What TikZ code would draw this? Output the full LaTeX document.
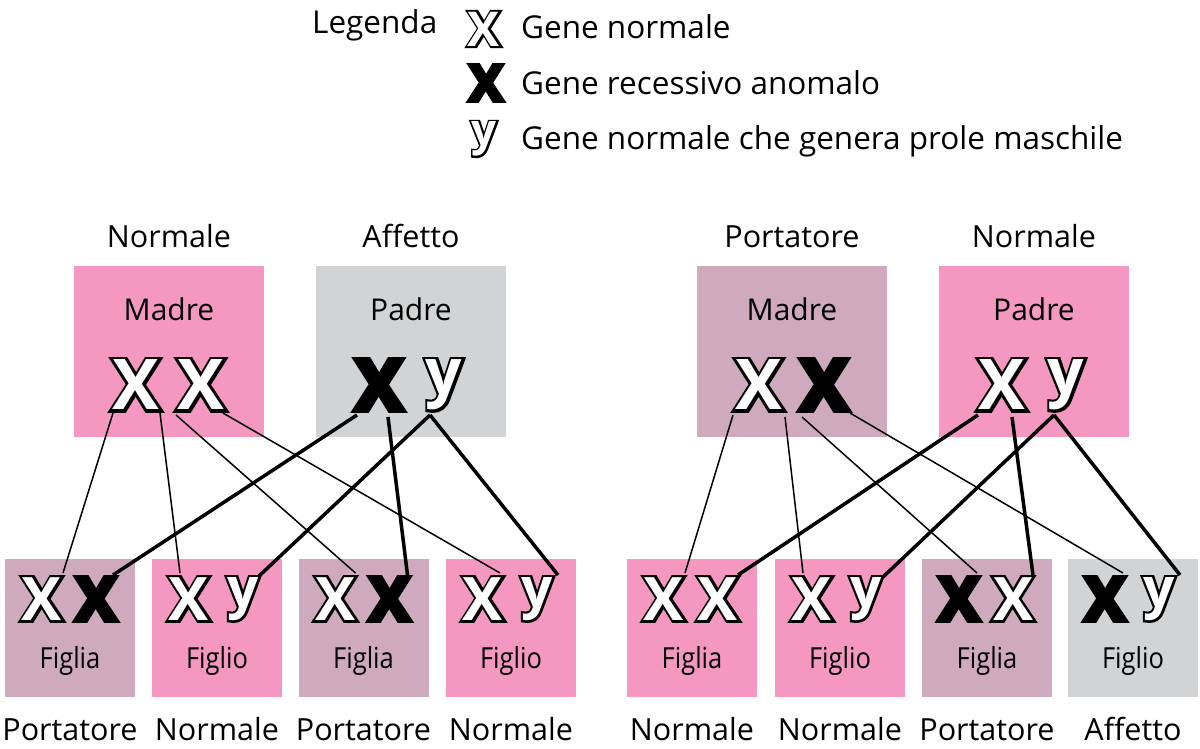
\documentclass[tikz,border=0pt]{standalone}
\usepackage{fontspec}
\setmainfont{Open Sans}
\newfontfamily\condfont[FakeStretch=0.88]{Open Sans}
\newfontfamily\gfill{Open Sans Bold}
\newfontfamily\gstroke[FakeBold=8.5]{Open Sans Bold}
\usetikzlibrary{calc}
\definecolor{rosa}{RGB}{244,152,193}
\definecolor{malva}{RGB}{207,170,190}
\definecolor{grigio}{RGB}{209,211,212}
\pgfdeclarelayer{bg}\pgfdeclarelayer{ln}\pgfsetlayers{bg,ln,main}
\newcommand\gw[1]{\rlap{\color{black}\gstroke #1}{\color{white}\gfill #1}}
\newcommand\gk[1]{{\color{black}\gstroke #1}}
\tikzset{
  pbox/.style={inner sep=0, minimum width=190pt, minimum height=171pt},
  cbox/.style={inner sep=0, minimum width=130pt, minimum height=138pt},
  lab/.style={anchor=base, inner sep=0, font=\fontsize{30.5pt}{30.5pt}\selectfont},
  ptxt/.style={anchor=base, inner sep=0, font=\fontsize{30pt}{30pt}\selectfont},
  ctxt/.style={anchor=base, inner sep=0, font=\condfont\fontsize{29pt}{29pt}\selectfont},
  ltxt/.style={anchor=base west, inner sep=0, font=\fontsize{31.5pt}{31.5pt}\selectfont},
  gs/.style={inner sep=0, font=\fontsize{#1pt}{#1pt}\selectfont},
  thinl/.style={line width=1.5pt},
  thickl/.style={line width=3.5pt}
}
\begin{document}
\begin{tikzpicture}[x=1pt,y=-1pt]
\useasboundingbox (0,0) rectangle (1200,748);
% boxes
\begin{pgfonlayer}{bg}
\node[pbox,fill=rosa]   (LM) at (169,351.5) {};
\node[pbox,fill=grigio] (LP) at (411,351.5) {};
\node[pbox,fill=malva]  (RM) at (792,351.5) {};
\node[pbox,fill=rosa]   (RP) at (1034,351.5) {};
\node[cbox,fill=malva]  (C1) at (70,628) {};
\node[cbox,fill=rosa]   (C2) at (217,628) {};
\node[cbox,fill=malva]  (C3) at (363.5,628) {};
\node[cbox,fill=rosa]   (C4) at (511,628) {};
\node[cbox,fill=rosa]   (C5) at (692,628) {};
\node[cbox,fill=rosa]   (C6) at (840,628) {};
\node[cbox,fill=malva]  (C7) at (987,628) {};
\node[cbox,fill=grigio] (C8) at (1133,628) {};
\end{pgfonlayer}
% legend
\node[ltxt] (leg) at (312,33) {Legenda};
\node[gs=48] (k1) at (484,29) {\gw{X}};
\node[gs=50] (k2) at (486,83) {\gk{X}};
\node[gs=44] (k3) at (484,139) {\gw{y}};
\node[ltxt] (k1t) at (521,38) {Gene normale};
\node[ltxt] (k2t) at (521,94) {Gene recessivo anomalo};
\node[ltxt] (k3t) at (521,149) {Gene normale che genera prole maschile};
% parent labels
\node[lab] (LMl) at (169,247) {Normale};
\node[lab] (LPl) at (411,247) {Affetto};
\node[lab] (RMl) at (792,247) {Portatore};
\node[lab] (RPl) at (1034,247) {Normale};
\node[ptxt] (LMt) at (169,320) {Madre};
\node[ptxt] (LPt) at (411,320) {Padre};
\node[ptxt] (RMt) at (792,320) {Madre};
\node[ptxt] (RPt) at (1034,320) {Padre};
% parent genes
\node[gs=70] (LMa) at (136,385) {\gw{X}};
\node[gs=70] (LMb) at (201,385) {\gw{X}};
\node[gs=70] (LPa) at (379,385) {\gk{X}};
\node[gs=64] (LPb) at (444,385) {\gw{y}};
\node[gs=70] (RMa) at (759,385) {\gw{X}};
\node[gs=70] (RMb) at (824,385) {\gk{X}};
\node[gs=70] (RPa) at (1002,385) {\gw{X}};
\node[gs=64] (RPb) at (1066,385) {\gw{y}};
% children texts
\node[ctxt] (C1t) at (70,668) {Figlia};
\node[ctxt] (C2t) at (217,668) {Figlio};
\node[ctxt] (C3t) at (363.5,668) {Figlia};
\node[ctxt] (C4t) at (511,668) {Figlio};
\node[ctxt] (C5t) at (692,668) {Figlia};
\node[ctxt] (C6t) at (840,668) {Figlio};
\node[ctxt] (C7t) at (987,668) {Figlia};
\node[ctxt] (C8t) at (1133,668) {Figlio};
\node[lab] (C1l) at (70,740) {Portatore};
\node[lab] (C2l) at (217,740) {Normale};
\node[lab] (C3l) at (363.5,740) {Portatore};
\node[lab] (C4l) at (511,740) {Normale};
\node[lab] (C5l) at (692,740) {Normale};
\node[lab] (C6l) at (840,740) {Normale};
\node[lab] (C7l) at (987,740) {Portatore};
\node[lab] (C8l) at (1133,740) {Affetto};
% children genes
\node[gs=60] (C1a) at (42,599) {\gw{X}};
\node[gs=60] (C1b) at (96,599) {\gk{X}};
\node[gs=60] (C2a) at (189,599) {\gw{X}};
\node[gs=55] (C2b) at (243,599) {\gw{y}};
\node[gs=60] (C3a) at (335.5,599) {\gw{X}};
\node[gs=60] (C3b) at (389.5,599) {\gk{X}};
\node[gs=60] (C4a) at (483,599) {\gw{X}};
\node[gs=55] (C4b) at (537,599) {\gw{y}};
\node[gs=60] (C5a) at (664,599) {\gw{X}};
\node[gs=60] (C5b) at (718,599) {\gw{X}};
\node[gs=60] (C6a) at (812,599) {\gw{X}};
\node[gs=55] (C6b) at (866,599) {\gw{y}};
\node[gs=60] (C7a) at (959,599) {\gk{X}};
\node[gs=60] (C7b) at (1013,599) {\gw{X}};
\node[gs=60] (C8a) at (1105,599) {\gk{X}};
\node[gs=55] (C8b) at (1159,599) {\gw{y}};
% connectors
\begin{pgfonlayer}{ln}
\draw[thinl] ($(LMa)+(-23,28)$) -- ($(C1a)+(21,-26)$);
\draw[thinl] ($(LMa)+(24,28)$) -- ($(C2a)+(-9,-26)$);
\draw[thinl] ($(LMb)+(-25,30)$) -- ($(C3a)+(20,-26)$);
\draw[thinl] ($(LMb)+(22,28)$) -- ($(C4a)+(17,-26)$);
\draw[thickl] ($(LPa)+(-22,30)$) -- ($(C1b)+(17,-24)$);
\draw[thickl] ($(LPa)+(9,32)$) -- ($(C3b)+(18,-24)$);
\draw[thickl] ($(LPb)+(-14,30)$) -- ($(C2b)+(15,-22)$);
\draw[thickl] ($(LPb)+(-14,30)$) -- ($(C4b)+(21,-24)$);
\draw[thinl] ($(RMa)+(-26,30)$) -- ($(C5a)+(21,-26)$);
\draw[thinl] ($(RMa)+(26,32)$) -- ($(C6a)+(-9,-26)$);
\draw[thinl] ($(RMb)+(-22,32)$) -- ($(C7a)+(18,-26)$);
\draw[thinl] ($(RMb)+(26,28)$) -- ($(C8a)+(18,-26)$);
\draw[thickl] ($(RPa)+(-24,30)$) -- ($(C5b)+(20,-24)$);
\draw[thickl] ($(RPa)+(10,32)$) -- ($(C7b)+(20,-24)$);
\draw[thickl] ($(RPb)+(-12,30)$) -- ($(C6b)+(17,-22)$);
\draw[thickl] ($(RPb)+(-12,30)$) -- ($(C8b)+(21,-24)$);
\end{pgfonlayer}
\end{tikzpicture}
\end{document}
